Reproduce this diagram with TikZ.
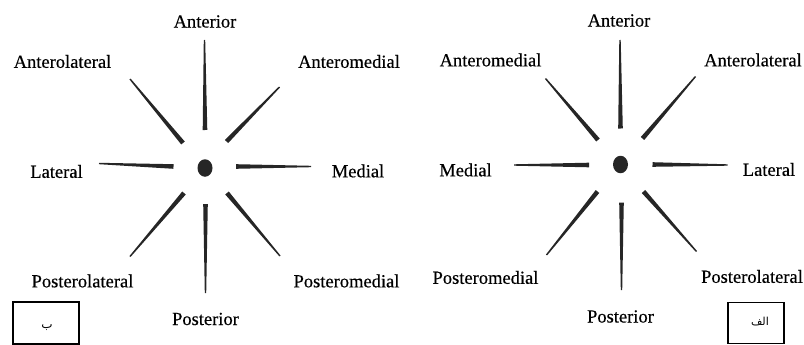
\documentclass[tikz,border=0pt]{standalone}
\usepackage{fontspec}
\setmainfont[FakeBold=0.4]{Liberation Serif}
\newfontfamily\arabicfont[Script=Arabic]{DejaVu Sans}
\TeXXeTstate=1
\usetikzlibrary{calc,shapes.geometric}
\tikzset{
  lbl/.style={font=\fontsize{18.5}{21}\selectfont, inner sep=0pt},
  tag/.style={draw, line width=1.2pt, minimum width=66pt, minimum height=42pt, inner sep=0pt},
  dot/.style={fill=black!85, ellipse, minimum width=15pt, minimum height=17.5pt, inner sep=0pt},
  ray/.style={fill=black!85, draw=none}
}
\newcommand{\taper}[2]{%
  \fill[ray] ($(#1)!2.3pt!90:(#2)$) -- ($(#2)!0.7pt!-90:(#1)$) -- ($(#2)!0.7pt!90:(#1)$) -- ($(#1)!2.3pt!-90:(#2)$) -- cycle;}
\begin{document}
\begin{tikzpicture}[x=1pt,y=-1pt]
\useasboundingbox (0,0) rectangle (804,345);
% ---------- left diagram (b) ----------
\node[dot] (Lc) at (205,168) {};
\coordinate (La1) at (205,130);   \coordinate (La2) at (204.5,40);
\coordinate (Lam1) at (226.5,141.5); \coordinate (Lam2) at (279.5,87);
\coordinate (Lal1) at (183,143);  \coordinate (Lal2) at (130,79);
\coordinate (Ll1) at (173.5,166.5); \coordinate (Ll2) at (99,163.5);
\coordinate (Lm1) at (236,166.5); \coordinate (Lm2) at (311,166.5);
\coordinate (Lpl1) at (184,193);  \coordinate (Lpl2) at (130,256.5);
\coordinate (Lpm1) at (227,193);  \coordinate (Lpm2) at (280,256);
\coordinate (Lp1) at (205.5,204); \coordinate (Lp2) at (205.5,293);
\taper{La1}{La2}\taper{Lam1}{Lam2}\taper{Lal1}{Lal2}\taper{Ll1}{Ll2}
\taper{Lm1}{Lm2}\taper{Lpl1}{Lpl2}\taper{Lpm1}{Lpm2}\taper{Lp1}{Lp2}
\node[lbl] (LA) at (205,21.5) {Anterior};
\node[lbl] (LAL) at (62.5,61.5) {Anterolateral};
\node[lbl] (LAM) at (349,61.5) {Anteromedial};
\node[lbl] (LL) at (56.5,171.5) {Lateral};
\node[lbl] (LM) at (358,171) {Medial};
\node[lbl] (LPL) at (82.5,281) {Posterolateral};
\node[lbl] (LPM) at (346.5,281) {Posteromedial};
\node[lbl] (LP) at (205.5,319) {Posterior};
\node[tag] (Lbox) at (46,323) {};
\node[inner sep=0pt] (Lbt) at (47,328) {\arabicfont\fontsize{12}{14}\selectfont\beginR ب\endR};
% ---------- right diagram (alef) ----------
\node[dot] (Rc) at (620.5,164.5) {};
\coordinate (Ra1) at (620.5,128.5);  \coordinate (Ra2) at (620,40);
\coordinate (Ram1) at (598,140);     \coordinate (Ram2) at (545.5,78.5);
\coordinate (Ral1) at (642.5,138.5); \coordinate (Ral2) at (695.5,76.5);
\coordinate (Rm1) at (589,165);      \coordinate (Rm2) at (514,165);
\coordinate (Rl1) at (652.5,164.5);  \coordinate (Rl2) at (727.5,165);
\coordinate (Rpm1) at (597.5,191.5); \coordinate (Rpm2) at (546.5,255);
\coordinate (Rpl1) at (643.5,191.5); \coordinate (Rpl2) at (696.5,251.5);
\coordinate (Rp1) at (621.5,202.5);  \coordinate (Rp2) at (621.5,290);
\taper{Ra1}{Ra2}\taper{Ram1}{Ram2}\taper{Ral1}{Ral2}\taper{Rm1}{Rm2}
\taper{Rl1}{Rl2}\taper{Rpm1}{Rpm2}\taper{Rpl1}{Rpl2}\taper{Rp1}{Rp2}
\node[lbl] (RA) at (619,20.5) {Anterior};
\node[lbl] (RAM) at (490.5,60) {Anteromedial};
\node[lbl] (RAL) at (753,60) {Anterolateral};
\node[lbl] (RM) at (465.5,170) {Medial};
\node[lbl] (RL) at (769,169.5) {Lateral};
\node[lbl] (RPM) at (485.5,277.5) {Posteromedial};
\node[lbl] (RPL) at (752,276.5) {Posterolateral};
\node[lbl] (RP) at (620.5,316.5) {Posterior};
\node[tag, minimum width=56pt, minimum height=40.5pt] (Rbox) at (756,323) {};
\node[inner sep=0pt] (Rbt) at (760,322) {\arabicfont\fontsize{11}{13}\selectfont\beginR الف\endR};
\end{tikzpicture}
\end{document}
